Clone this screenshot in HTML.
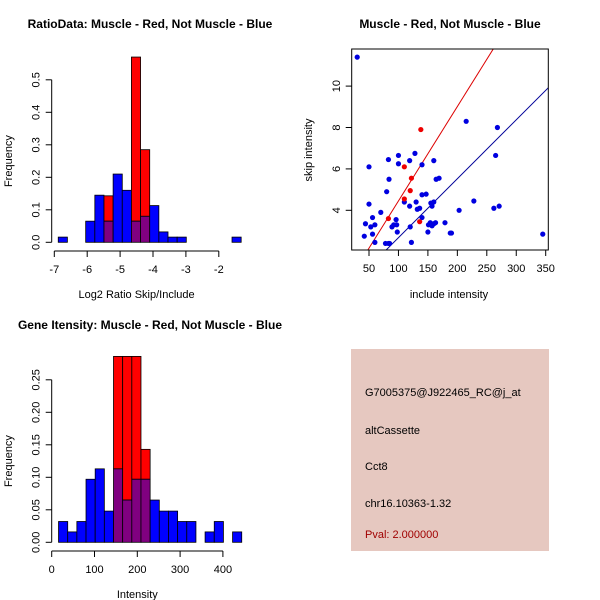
<!DOCTYPE html>
<html><head><meta charset="utf-8"><style>
body{margin:0;background:#fff;}
svg{display:block;font-family:"Liberation Sans",sans-serif;}
</style></head><body>
<svg id="c" width="600" height="600" viewBox="0 0 600 600">
<rect width="600" height="600" fill="#fff"/>
<text x="150" y="28" text-anchor="middle" font-size="12" font-weight="bold">RatioData: Muscle - Red, Not Muscle - Blue</text>
<text x="450" y="28" text-anchor="middle" font-size="12" font-weight="bold">Muscle - Red, Not Muscle - Blue</text>
<text x="150" y="329" text-anchor="middle" font-size="12" font-weight="bold">Gene Itensity: Muscle - Red, Not Muscle - Blue</text>
<g>
<rect x="351" y="349" width="198" height="202" fill="#e6c8c0"/>
<text x="365" y="396" font-size="11">G7005375@J922465_RC@j_at</text>
<text x="365" y="434" font-size="11">altCassette</text>
<text x="365" y="470" font-size="11">Cct8</text>
<text x="365" y="507" font-size="11">chr16.10363-1.32</text>
<text x="365" y="538" font-size="11" fill="#a00000">Pval: 2.000000</text>
</g>
</svg>
<script>
// Ratio histogram data
const ratioBinStart = -6.88, ratioBinWidth = 0.278;
const ratioBlue = [0.016,0,0,0.065,0.145,0.065,0.21,0.16,0.065,0.08,0.113,0.032,0.016,0.016,0,0,0,0,0,0.016];
const ratioRed  = [0,0,0,0,0,0.143,0,0,0.57,0.285,0,0,0,0,0,0,0,0,0,0];
const ratioXTicks = [-7,-6,-5,-4,-3,-2];
const ratioYTicks = [0,0.1,0.2,0.3,0.4,0.5];
const ratioYLabels = ["0.0","0.1","0.2","0.3","0.4","0.5"];
// Intensity histogram data
const intBinStart = 16, intBinWidth = 21.4;
const intBlue = [0.032,0.016,0.032,0.097,0.113,0.048,0.113,0.065,0.097,0.097,0.065,0.048,0.048,0.032,0.032,0,0.016,0.032,0,0.016];
const intRed  = [0,0,0,0,0,0,0.286,0.286,0.286,0.143,0,0,0,0,0,0,0,0,0,0];
const intXTicks = [0,100,200,300,400];
const intYTicks = [0,0.05,0.10,0.15,0.20,0.25];
const intYLabels = ["0.00","0.05","0.10","0.15","0.20","0.25"];
// Scatter data
const blueX = [30,215,268,265,128,100,83,119,160,100,50,140,84,164,169,80,140,147,50,110,130,155,160,157,228,119,132,136,203,262,271,70,56,96,140,44,53,60,89,92,97,120,151,154,157,160,163,179,56,98,150,188,190,345,42,60,78,83,85,122];
const blueY = [11.4,8.3,8.0,6.65,6.75,6.65,6.45,6.4,6.4,6.25,6.1,6.2,5.5,5.5,5.55,4.9,4.75,4.78,4.3,4.4,4.4,4.35,4.4,4.2,4.45,4.2,4.05,4.1,4.0,4.1,4.2,3.9,3.65,3.55,3.65,3.35,3.2,3.3,3.2,3.3,3.3,3.2,3.3,3.4,3.25,3.35,3.4,3.4,2.85,2.95,2.95,2.9,2.9,2.85,2.75,2.45,2.4,2.4,2.4,2.45];
const redX = [138,110,122,120,110,83,136];
const redY = [7.9,6.1,5.55,4.95,4.55,3.6,3.45];
const redLine = [-0.107,0.0456];
const blueLine = [-0.169,0.02847];
const scXTicks = [50,100,150,200,250,300,350];
const scYTicks = [4,6,8,10];

const svg = document.getElementById('c');
const NS = 'http://www.w3.org/2000/svg';
function mk(tag, attrs, parent){const e=document.createElementNS(NS,tag);for(const k in attrs)e.setAttribute(k,attrs[k]);(parent||svg).appendChild(e);return e;}
function txt(x,y,s,rot,anchor){const t=mk('text',{x:x,y:y,'font-size':11,'text-anchor':anchor||'middle'});if(rot)t.setAttribute('transform','rotate(-90 '+x+' '+y+')');t.textContent=s;return t;}

function histogram(name, start, width, blue, red, sx, sy, xTicks, yTicks, yLabels, xTitle, baseY, axisX){
  const g = mk('g',{});
  
  
  for(let i=0;i<blue.length;i++){
    const x0=sx(start+i*width), x1=sx(start+(i+1)*width);
    const b=blue[i], r=red[i];
    const lo=Math.min(b,r), hi=Math.max(b,r);
    if(hi>0){
      const top=mk('rect',{x:x0,y:sy(hi),width:x1-x0,height:sy(lo)-sy(hi),fill:r>b?'#ff0000':'#0000ff',stroke:'#000','stroke-width':0.8},g);
      
      
    }
    if(lo>0){
      const ov=mk('rect',{x:x0,y:sy(lo),width:x1-x0,height:sy(0)-sy(lo),fill:'#800080',stroke:'#000','stroke-width':0.8},g);
      
      
    }
  }
  const xa=mk('g',{},g);
  
  
  mk('line',{x1:sx(xTicks[0]),x2:sx(xTicks[xTicks.length-1]),y1:baseY,y2:baseY,stroke:'#000'},xa);
  xTicks.forEach(v=>{mk('line',{x1:sx(v),x2:sx(v),y1:baseY,y2:baseY+6,stroke:'#000'},xa);xa.appendChild(txt(sx(v),baseY+22,String(v)));});
  const ya=mk('g',{},g);
  
  
  mk('line',{x1:axisX,x2:axisX,y1:sy(yTicks[0]),y2:sy(yTicks[yTicks.length-1]),stroke:'#000'},ya);
  yTicks.forEach((v,i)=>{mk('line',{x1:axisX,x2:axisX-6,y1:sy(v),y2:sy(v),stroke:'#000'},ya);ya.appendChild(txt(axisX-12,sy(v),yLabels[i],true));});
  const xt=txt((sx(xTicks[0])+sx(xTicks[xTicks.length-1]))/2,baseY+47,xTitle);
  
  
  const yt=txt(12,(sy(yTicks[0])+sy(yTicks[yTicks.length-1]))/2,'Frequency',true);
  
  
}

histogram('ratio-histogram', ratioBinStart, ratioBinWidth, ratioBlue, ratioRed,
  v=>54.3+(v+7)*32.9, v=>242.3-v*325, ratioXTicks, ratioYTicks, ratioYLabels,
  'Log2 Ratio Skip/Include', 251, 51.7);
histogram('intensity-histogram', intBinStart, intBinWidth, intBlue, intRed,
  v=>51.7+v*0.428, v=>542.3-v*650, intXTicks, intYTicks, intYLabels,
  'Intensity', 551, 51.7);

const sxS=v=>369+(v-50)*0.589, syS=v=>210.3-(v-4)*20.7;
const sc=mk('g',{});


const cp=mk('clipPath',{id:'scclip'},sc);mk('rect',{x:351.7,y:49,width:196.6,height:201},cp);
function drawLine(p,color,name){
  const xa=0,xb=400;
  const l=mk('line',{x1:sxS(xa),y1:syS(p[0]+p[1]*xa),x2:sxS(xb),y2:syS(p[0]+p[1]*xb),stroke:color,'stroke-width':1,'clip-path':'url(#scclip)'},sc);
  
  
}
drawLine(redLine,'#dd0000','muscle-fit-line');
drawLine(blueLine,'#000099','not-muscle-fit-line');
blueX.forEach((x,i)=>{const c=mk('circle',{cx:sxS(x),cy:syS(blueY[i]),r:2.6,fill:'#0000e0'},sc);
  
  });
redX.forEach((x,i)=>{const c=mk('circle',{cx:sxS(x),cy:syS(redY[i]),r:2.6,fill:'#ee0000'},sc);
  
  });
const box=mk('rect',{x:351.7,y:49,width:196.6,height:201,fill:'none',stroke:'#000'},sc);


scXTicks.forEach(v=>{mk('line',{x1:sxS(v),x2:sxS(v),y1:250,y2:256,stroke:'#000'},sc);sc.appendChild(txt(sxS(v),272,String(v)));});
scYTicks.forEach(v=>{mk('line',{x1:351.7,x2:345.7,y1:syS(v),y2:syS(v),stroke:'#000'},sc);sc.appendChild(txt(340,syS(v),String(v),true));});
const sxt=txt(449,298,'include intensity');


const syt=txt(312,150,'skip intensity',true);


</script>
</body></html>
